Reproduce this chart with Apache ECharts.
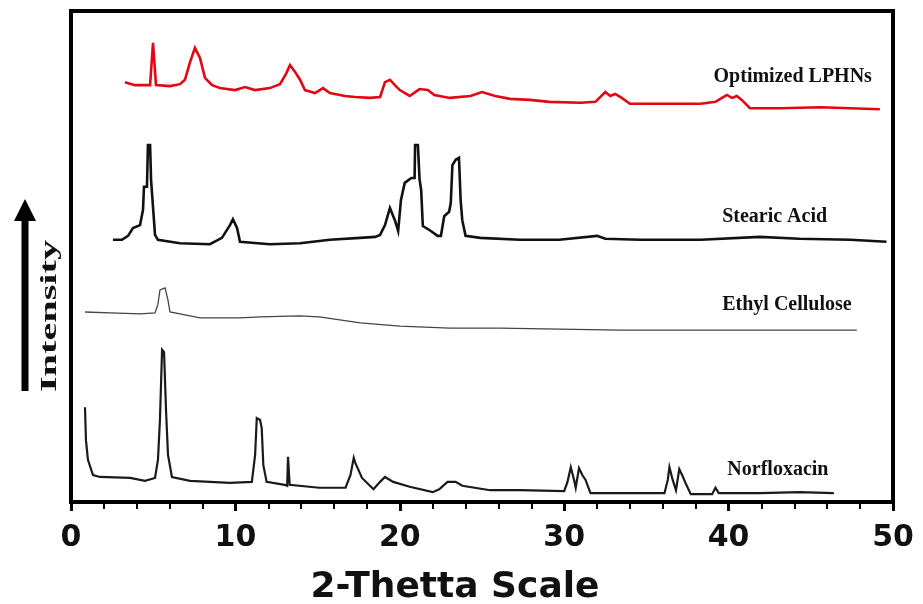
<!DOCTYPE html>
<html lang="en">
<head>
    <meta charset="UTF-8">
    <title>XRD patterns</title>
    <script src="https://cdn.jsdelivr.net/npm/echarts@6.0.0/dist/echarts.min.js"></script>
    <style>
        html, body { margin: 0; padding: 0; background: #fff; }
        #chart { width: 923px; height: 604px; }
    </style>
</head>
<body>
    <div id="chart"></div>
    <script>
        // 2-theta values and stacked intensities (arbitrary units)
        var lphnX = [3.28, 3.89, 4.81, 4.93, 4.99, 5.11, 5.17, 6.02, 6.63, 6.93, 7.24, 7.54, 7.85, 8.15, 8.58, 9.06, 9.98, 10.58, 11.19, 12.1, 12.71, 13.08, 13.32, 13.63, 13.93, 14.23, 14.84, 15.33, 15.75, 16.67, 17.27, 18.19, 18.8, 19.1, 19.4, 19.7, 20.0, 20.6, 21.2, 21.7, 22.1, 23.05, 24.3, 25.0, 25.8, 26.7, 27.9, 29.1, 31.0, 31.9, 32.5, 32.8, 33.1, 33.5, 34.0, 35.2, 37.0, 38.3, 39.2, 39.6, 39.9, 40.2, 40.5, 40.8, 41.3, 43.1, 45.6, 47.4, 49.2];
        var lphnY = [85.5, 84.9, 84.9, 85.1, 93.5, 93.3, 84.9, 84.7, 85.1, 86.0, 89.6, 92.5, 90.4, 86.4, 84.9, 84.3, 83.9, 84.5, 83.9, 84.3, 85.1, 87.2, 89.0, 87.6, 86.0, 83.9, 83.3, 84.3, 83.3, 82.7, 82.5, 82.3, 82.5, 85.5, 86.0, 84.9, 83.9, 82.7, 84.1, 83.9, 82.9, 82.3, 82.7, 83.5, 82.7, 82.1, 81.9, 81.5, 81.3, 81.5, 83.5, 82.7, 83.1, 82.3, 81.1, 81.1, 81.1, 81.1, 81.5, 82.3, 82.9, 82.3, 82.7, 81.9, 80.2, 80.2, 80.4, 80.2, 80.0];

        var stearicX = [2.55, 3.1, 3.47, 3.77, 4.2, 4.38, 4.44, 4.62, 4.68, 4.81, 4.87, 4.99, 5.11, 5.29, 6.63, 8.45, 9.18, 9.67, 9.85, 10.1, 10.28, 12.1, 13.93, 15.75, 17.58, 18.5, 18.8, 19.1, 19.4, 19.7, 19.9, 20.07, 20.3, 20.7, 20.9, 20.93, 21.1, 21.2, 21.3, 21.4, 21.8, 22.3, 22.5, 22.7, 23.0, 23.1, 23.2, 23.4, 23.6, 23.7, 23.8, 24.0, 24.9, 27.3, 29.7, 32.0, 32.5, 34.6, 38.3, 41.9, 44.3, 47.4, 49.6];
        var stearicY = [53.4, 53.4, 54.2, 55.8, 56.4, 59.5, 64.2, 64.2, 72.7, 72.7, 65.6, 65.6, 54.4, 53.4, 52.7, 52.5, 53.8, 56.4, 57.6, 55.8, 53.0, 52.5, 52.7, 53.4, 53.8, 54.0, 54.4, 56.4, 59.9, 57.4, 55.2, 61.5, 65.0, 66.0, 66.0, 72.7, 72.7, 65.8, 63.5, 56.2, 55.4, 54.2, 54.2, 58.2, 59.1, 60.9, 68.6, 69.7, 70.1, 61.5, 57.4, 54.2, 53.8, 53.4, 53.4, 54.2, 53.6, 53.4, 53.4, 54.0, 53.6, 53.4, 53.0];

        var ethylX = [0.85, 2.37, 4.2, 5.11, 5.29, 5.41, 5.72, 5.9, 6.02, 6.63, 7.85, 10.28, 11.5, 13.9, 15.1, 17.6, 20.0, 23.05, 26.1, 29.7, 33.4, 38.3, 43.1, 47.8];
        var ethylY = [38.7, 38.5, 38.3, 38.5, 40.3, 43.2, 43.6, 41.1, 38.7, 38.3, 37.5, 37.5, 37.7, 37.9, 37.7, 36.5, 35.8, 35.4, 35.4, 35.2, 35.0, 35.0, 35.0, 35.0];

        var norfX = [0.85, 0.91, 1.03, 1.34, 1.76, 3.59, 4.5, 5.11, 5.29, 5.41, 5.54, 5.66, 5.78, 5.9, 6.14, 7.24, 9.67, 11.0, 11.2, 11.3, 11.5, 11.6, 11.7, 11.9, 13.0, 13.15, 13.2, 13.3, 15.1, 16.7, 17.0, 17.2, 17.3, 17.7, 18.4, 18.8, 19.1, 19.6, 20.6, 22.0, 22.4, 22.9, 23.4, 23.8, 25.5, 27.3, 30.0, 30.2, 30.4, 30.6, 30.7, 30.9, 31.1, 31.3, 31.6, 33.4, 36.1, 36.3, 36.4, 36.6, 36.8, 37.0, 37.2, 37.4, 37.7, 39.0, 39.2, 39.4, 41.9, 44.3, 46.4];
        var norfY = [19.3, 12.6, 8.6, 5.5, 5.1, 4.9, 4.3, 4.9, 8.6, 16.7, 31.0, 30.5, 18.7, 9.6, 5.1, 4.3, 3.9, 4.1, 9.6, 17.1, 16.7, 15.1, 7.5, 4.1, 3.5, 3.3, 9.2, 3.5, 2.9, 2.9, 5.5, 9.0, 7.9, 4.9, 2.6, 4.1, 5.1, 4.1, 3.1, 2.0, 2.6, 4.1, 4.1, 3.3, 2.4, 2.4, 2.2, 4.1, 7.1, 4.5, 2.9, 6.9, 5.5, 4.5, 1.8, 1.8, 1.8, 4.5, 7.1, 4.5, 2.4, 6.7, 5.3, 3.7, 1.6, 1.6, 2.9, 1.8, 1.8, 2.0, 1.8];

        var xTicks = [0, 10, 20, 30, 40, 50];

        // sample labels and where they sit (data coords)
        var sampleNames = ['Optimized LPHNs', 'Stearic Acid', 'Ethyl Cellulose', 'Norfloxacin'];
        var labelX = [43.9, 42.8, 43.55, 43.0];
        var labelY = [86.6, 58.0, 40.1, 6.5];

        function pairs (xs, ys) {
            var out = [];
            for (var i = 0; i < xs.length; i++) {
                out.push([xs[i], ys[i]]);
            }
            return out;
        }

        function line (name, xs, ys, color, width) {
            return {
                name: name,
                type: 'line',
                data: pairs(xs, ys),
                showSymbol: false,
                silent: true,
                lineStyle: { color: color, width: width, join: 'miter' },
                z: 3
            };
        }

        var myChart = echarts.init(document.getElementById('chart'));

        var option = {
            animation: false,
            backgroundColor: '#fff',
            grid: {
                left: 71, right: 30, top: 11, bottom: 102,
                outerBoundsMode: 'none',
                containLabel: false,
                show: true,
                borderColor: '#000',
                borderWidth: 4
            },
            xAxis: {
                type: 'value',
                min: xTicks[0],
                max: xTicks[xTicks.length - 1],
                interval: 10,
                name: '2-Thetta Scale',
                nameLocation: 'middle',
                nameGap: 68,
                nameTextStyle: {
                    fontFamily: 'DejaVu Sans',
                    fontWeight: 'bold',
                    fontSize: 36,
                    color: '#111',
                    padding: [0, 54, 0, 0]
                },
                axisLine: { show: true, lineStyle: { color: '#000', width: 4 } },
                axisTick: { show: true, length: 9, lineStyle: { color: '#000', width: 3 } },
                minorTick: { show: true, splitNumber: 5, length: 7, lineStyle: { color: '#000', width: 2 } },
                splitLine: { show: false },
                axisLabel: {
                    margin: 21,
                    fontFamily: 'DejaVu Sans',
                    fontWeight: 'bold',
                    fontSize: 30,
                    color: '#111'
                }
            },
            yAxis: {
                type: 'value',
                min: 0,
                max: 100,
                show: false
            },
            series: [
                line('Optimized LPHNs', lphnX, lphnY, '#e30613', 2.6),
                line('Stearic Acid', stearicX, stearicY, '#111', 2.6),
                line('Ethyl Cellulose', ethylX, ethylY, '#444', 1.3),
                line('Norfloxacin', norfX, norfY, '#1a1a1a', 2.2)
            ]
        };
        myChart.setOption(option);

        // labels next to each trace + the intensity arrow
        var graphics = [];
        for (var i = 0; i < sampleNames.length; i++) {
            var p = myChart.convertToPixel({ gridIndex: 0 }, [labelX[i], labelY[i]]);
            graphics.push({
                type: 'text',
                x: p[0],
                y: p[1],
                silent: true,
                style: {
                    text: sampleNames[i],
                    fill: '#111',
                    font: 'bold 20px "Liberation Serif", "DejaVu Serif", serif',
                    textAlign: 'center',
                    textVerticalAlign: 'middle'
                },
                z: 10
            });
        }
        graphics.push({
            type: 'text',
            x: 50,
            y: 316,
            rotation: Math.PI / 2,
            scaleX: 1.75,
            silent: true,
            style: {
                text: 'Intensity',
                fill: '#111',
                font: 'bold 23px "Liberation Serif", "DejaVu Serif", serif',
                textAlign: 'center',
                textVerticalAlign: 'middle'
            }
        });
        graphics.push({
            type: 'rect',
            silent: true,
            shape: { x: 21.5, y: 218, width: 7, height: 173 },
            style: { fill: '#000' }
        });
        graphics.push({
            type: 'polygon',
            silent: true,
            shape: { points: [[14, 221], [36, 221], [25, 199]] },
            style: { fill: '#000' }
        });
        myChart.setOption({ graphic: graphics });
    </script>
</body>
</html>
